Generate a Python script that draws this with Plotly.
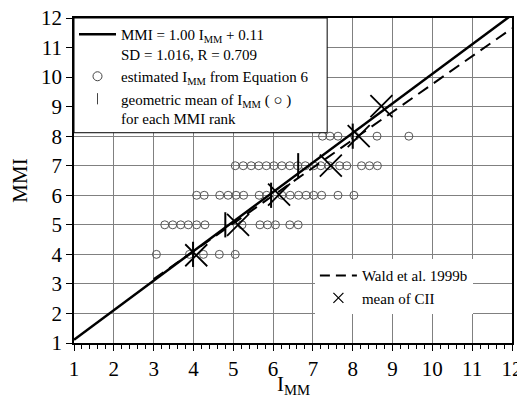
import plotly.graph_objects as go

# ---- data ----
fit_imm = [1.0, 12.0]
fit_mmi = [1.11, 12.11]

wald_imm = [3.0, 12.0]
wald_mmi = [3.16, 11.65]

est_imm_mmi4 = [3.07, 3.9, 4.25, 4.65, 5.05]
est_imm_mmi5 = [3.28, 3.48, 3.68, 3.87, 4.08, 4.29, 5.22, 5.67, 5.86, 6.06, 6.42, 6.63]
est_imm_mmi6 = [4.08, 4.27, 4.66, 4.87, 5.07, 5.26, 5.65, 5.84, 6.22, 6.43, 6.64, 6.83, 7.02, 7.22, 7.63, 8.03]
est_imm_mmi7 = [5.05, 5.25, 5.45, 5.64, 5.83, 6.02, 6.22, 6.42, 6.62, 6.81, 7.02, 7.2, 7.4,
                7.67, 7.85, 8.22, 8.42, 8.62]
est_imm_mmi8 = [7.24, 7.43, 7.63, 8.05, 8.61, 9.41]
est_ranks = [4, 5, 6, 7, 8]

geo_imm = [3.99, 4.8, 5.95, 6.63, 8.0]
geo_mmi = [4, 5, 6, 7, 8]

cii_imm = [4.07, 5.12, 6.15, 7.45, 8.15, 8.72]
cii_mmi = [3.97, 5.0, 6.02, 7.0, 8.0, 9.02]

tick_vals = list(range(1, 13))

est_rows = [est_imm_mmi4, est_imm_mmi5, est_imm_mmi6, est_imm_mmi7, est_imm_mmi8]
est_x, est_y = [], []
for rank, row in zip(est_ranks, est_rows):
    est_x += row
    est_y += [rank] * len(row)

FONT = "Liberation Serif, Times New Roman, serif"
fig = go.Figure()

# white legend box
fig.add_shape(type="rect", xref="paper", yref="paper", x0=0, x1=0.578, y0=0.647, y1=1,
              fillcolor="white", line=dict(color="black", width=1), layer="above")

# data traces
fig.add_trace(go.Scatter(x=est_x, y=est_y, mode="markers", showlegend=False,
                         marker=dict(symbol="circle-open", size=8, color="#555555",
                                     line=dict(width=1, color="#555555"))))
fig.add_trace(go.Scatter(x=wald_imm, y=wald_mmi, mode="lines", showlegend=False,
                         line=dict(color="black", width=2, dash="12px,7px")))
fig.add_trace(go.Scatter(x=fit_imm, y=fit_mmi, mode="lines", showlegend=False,
                         line=dict(color="black", width=2.5)))
fig.add_trace(go.Scatter(x=geo_imm, y=geo_mmi, mode="markers", showlegend=False,
                         marker=dict(symbol="line-ns-open", size=18, color="black",
                                     line=dict(width=2, color="black"))))
fig.add_trace(go.Scatter(x=cii_imm, y=cii_mmi, mode="markers", showlegend=False,
                         marker=dict(symbol="x-thin-open", size=22, color="black",
                                     line=dict(width=1.8, color="black"))))

# legend entries
fig.add_trace(go.Scatter(x=[None], y=[None], mode="lines", legend="legend",
                         name="MMI = 1.00 I<sub>MM</sub> + 0.11<br>SD = 1.016, R = 0.709",
                         line=dict(color="black", width=2.5)))
fig.add_trace(go.Scatter(x=[None], y=[None], mode="markers", legend="legend",
                         name="estimated I<sub>MM</sub> from Equation 6",
                         marker=dict(symbol="circle-open", size=9, color="#444444",
                                     line=dict(width=1, color="#444444"))))
fig.add_trace(go.Scatter(x=[None], y=[None], mode="markers", legend="legend",
                         name="geometric mean of I<sub>MM</sub> ( ○ )<br>for each MMI rank",
                         marker=dict(symbol="line-ns-open", size=8, color="#444444",
                                     line=dict(width=1, color="#444444"))))
fig.add_trace(go.Scatter(x=[None], y=[None], mode="lines", legend="legend2",
                         name="Wald et al. 1999b",
                         line=dict(color="black", width=2, dash="10px,6px")))
fig.add_trace(go.Scatter(x=[None], y=[None], mode="markers", legend="legend2",
                         name="mean of CII",
                         marker=dict(symbol="x-thin-open", size=10, color="black",
                                     line=dict(width=1.2, color="black"))))

axis_common = dict(
    tickvals=tick_vals, showgrid=True, gridcolor="#808080", gridwidth=1,
    showline=True, linecolor="black", linewidth=1.5, mirror=True,
    ticks="outside", ticklen=6, tickcolor="black", tickwidth=1,
    tickfont=dict(family=FONT, size=21, color="black"), zeroline=False,
    automargin=False, ticklabeloverflow="allow",
)

# the page body adds an 8px offset, so the figure is 8px smaller than the window
fig.update_layout(
    width=517, height=401,
    margin=dict(l=66, r=13, t=10, b=66),
    plot_bgcolor="white", paper_bgcolor="white",
    font=dict(family=FONT, color="black"),
    xaxis=dict(**axis_common, range=[1, 12],
               minor=dict(dtick=0.2, tick0=1, ticks="outside", ticklen=4, tickcolor="black", showgrid=False)),
    yaxis=dict(**axis_common, range=[1, 12.0001],
               title=dict(text="MMI", font=dict(family=FONT, size=21), standoff=10)),
    legend=dict(x=0.0, y=1.0, xanchor="left", yanchor="top", bgcolor="rgba(0,0,0,0)",
                borderwidth=0, font=dict(family=FONT, size=15, color="black"),
                itemwidth=37, valign="top", traceorder="normal", tracegroupgap=0,
                itemsizing="trace"),
    legend2=dict(x=0.55, y=0.258, xanchor="left", yanchor="top", bgcolor="white",
                 borderwidth=0, font=dict(family=FONT, size=15, color="black"),
                 itemwidth=37, traceorder="normal", itemsizing="trace"),
    annotations=[dict(text="I<sub>MM</sub>", xref="paper", yref="paper", x=0.5, y=-0.13,
                      xanchor="center", yanchor="middle", showarrow=False,
                      font=dict(family=FONT, size=21, color="black"))],
)

fig.write_html("out.html")
